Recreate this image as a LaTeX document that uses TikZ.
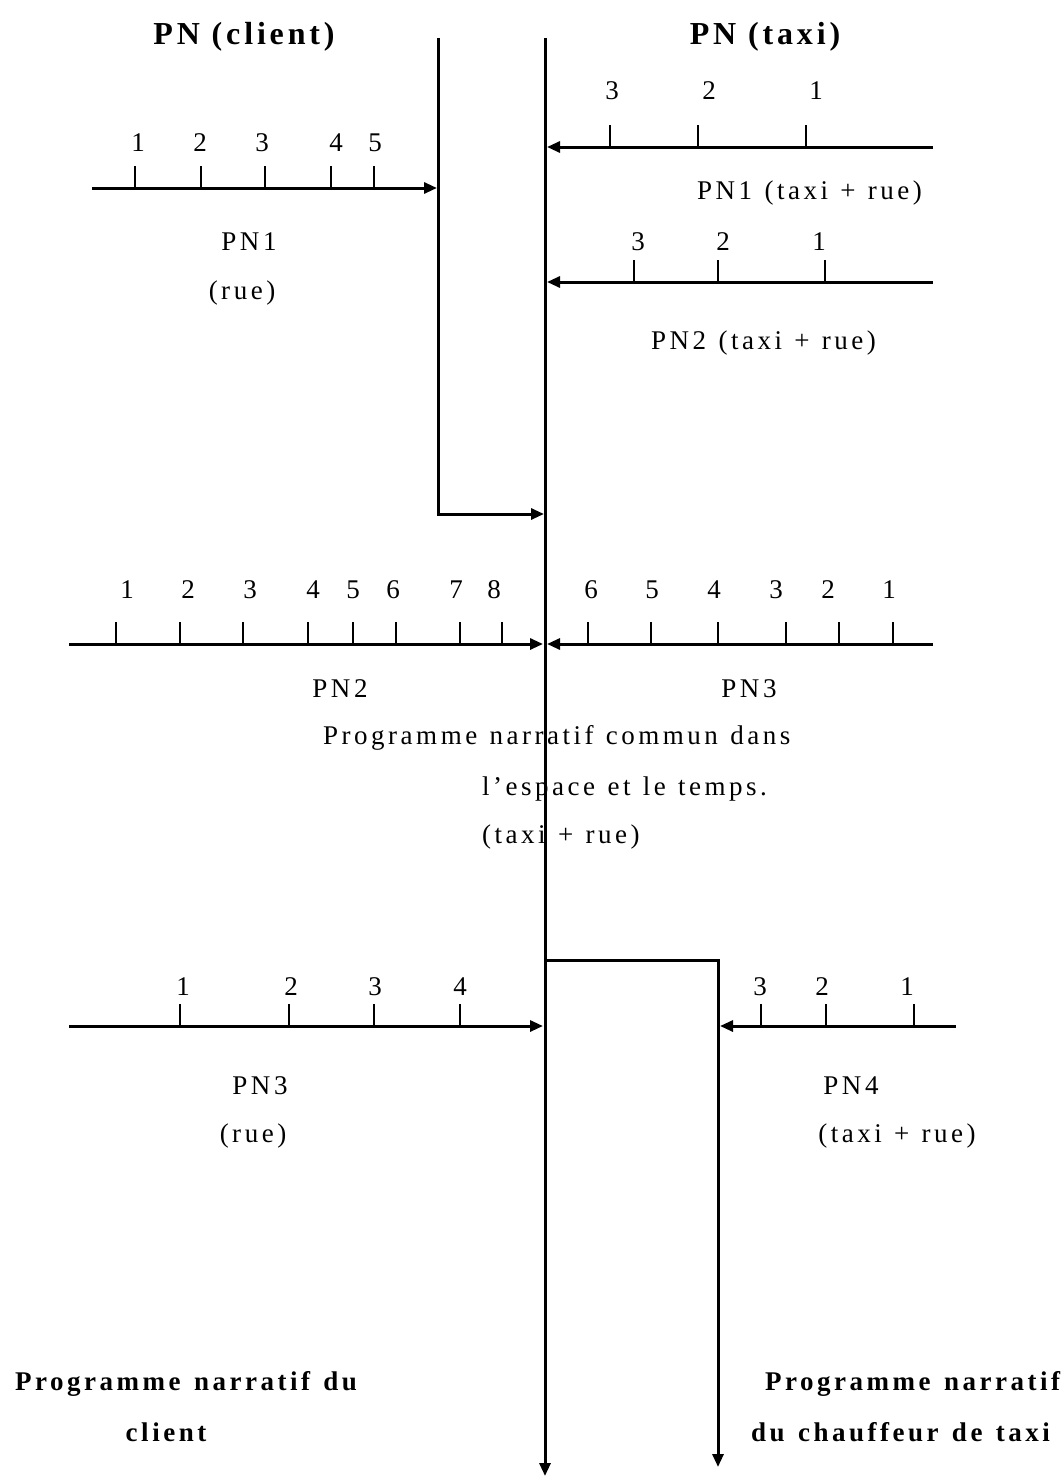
\documentclass[tikz,border=0pt]{standalone}
\usepackage{fontspec}
\setmainfont{Liberation Serif}[LetterSpace=13,WordSpace=1.2]
\newfontfamily\titlefont{Liberation Serif}[LetterSpace=12]
\newfontfamily\capfont{Liberation Serif}[LetterSpace=13,WordSpace=1.3]
\usetikzlibrary{arrows.meta}
\begin{document}
\begin{tikzpicture}[x=1pt,y=-1pt,
  ln/.style={line width=3pt},
  arr/.style={ln,-{Triangle[length=13pt,width=11pt]}},
  tickmark/.style={line width=2.6pt},
  lbl/.style={font=\fontsize{27}{32}\selectfont,inner sep=0pt,anchor=base},
  lblw/.style={lbl,anchor=base west},
  ttl/.style={font=\titlefont\fontsize{32}{38}\selectfont\bfseries,inner sep=0pt,anchor=base},
  bot/.style={font=\capfont\fontsize{27}{32}\selectfont\bfseries,inner sep=0pt,anchor=base west},
  botc/.style={bot,anchor=base}]
\useasboundingbox (0,0) rectangle (1063,1477);
\fill[white] (0,0) rectangle (1063,1477);

% titles
\node[ttl] (tclient) at (244,45) {PN (client)};
\node[ttl] (ttaxi) at (765,45) {PN (taxi)};

% main structure
\coordinate (mtop) at (545,38);
\coordinate (mbot) at (545,1476);
\coordinate (ltop) at (438,38);
\coordinate (ljoin) at (544,514);
\coordinate (rstart) at (545,960);
\coordinate (rbot) at (718,1467);
\draw[arr] (mtop) -- (mbot);
\draw[arr] (ltop) |- (ljoin);
\draw[arr] (rstart) -| (rbot);

% top right PN1 axis
\coordinate (a1s) at (933,147);
\coordinate (a1e) at (547,147);
\draw[arr] (a1s) -- (a1e);
\foreach \x in {610,698,806}{
  \draw[tickmark] (\x,147) -- (\x,125);
}
\foreach \x/\d in {612/3,709/2,816/1}{
  \node[lbl] (t1\d) at (\x,100) {\d};
}
\node[lblw] (pn1t) at (697,199) {PN1 (taxi + rue)};

% left PN1 axis
\coordinate (l1s) at (92,188);
\coordinate (l1e) at (437,188);
\draw[arr] (l1s) -- (l1e);
\foreach \x in {135,201,265,331,374}{
  \draw[tickmark] (\x,188) -- (\x,166);
}
\foreach \x/\d in {138/1,200/2,262/3,336/4,375/5}{
  \node[lbl] (c1\d) at (\x,151) {\d};
}
\node[lbl] (pn1c) at (249,250) {PN1};
\node[lbl] (pn1r) at (242,299) {(rue)};

% top right PN2 axis
\coordinate (a2s) at (933,282);
\coordinate (a2e) at (547,282);
\draw[arr] (a2s) -- (a2e);
\foreach \x in {634,718,825}{
  \draw[tickmark] (\x,282) -- (\x,260);
}
\foreach \x/\d in {638/3,723/2,819/1}{
  \node[lbl] (t2\d) at (\x,250) {\d};
}
\node[lblw] (pn2t) at (651,349) {PN2 (taxi + rue)};

% middle axes
\coordinate (mls) at (69,644);
\coordinate (mle) at (543,644);
\coordinate (mrs) at (933,644);
\coordinate (mre) at (547,644);
\draw[arr] (mls) -- (mle);
\draw[arr] (mrs) -- (mre);
\foreach \x in {116,180,243,308,353,396,460,502}{
  \draw[tickmark] (\x,644) -- (\x,622);
}
\foreach \x/\d in {127/1,188/2,250/3,313/4,353/5,393/6,456/7,494/8}{
  \node[lbl] (c2\d) at (\x,598) {\d};
}
\foreach \x in {588,651,718,786,839,893}{
  \draw[tickmark] (\x,644) -- (\x,622);
}
\foreach \x/\d in {591/6,652/5,714/4,776/3,828/2,889/1}{
  \node[lbl] (t3\d) at (\x,598) {\d};
}
\node[lbl] (pn2c) at (340,697) {PN2};
\node[lbl] (pn3t) at (749,697) {PN3};
\node[lblw] (com1) at (323,744) {Programme narratif commun dans};
\node[lblw] (com2) at (482,795) {l’espace et le temps.};
\node[lblw] (com3) at (482,843) {(taxi + rue)};

% bottom axes
\coordinate (bls) at (69,1026);
\coordinate (ble) at (543,1026);
\coordinate (brs) at (956,1026);
\coordinate (bre) at (720,1026);
\draw[arr] (bls) -- (ble);
\draw[arr] (brs) -- (bre);
\foreach \x in {180,289,374,460}{
  \draw[tickmark] (\x,1026) -- (\x,1004);
}
\foreach \x/\d in {183/1,291/2,375/3,460/4}{
  \node[lbl] (c3\d) at (\x,995) {\d};
}
\foreach \x in {761,826,914}{
  \draw[tickmark] (\x,1026) -- (\x,1004);
}
\foreach \x/\d in {760/3,822/2,907/1}{
  \node[lbl] (t4\d) at (\x,995) {\d};
}
\node[lbl] (pn3c) at (260,1094) {PN3};
\node[lbl] (pn3r) at (253,1142) {(rue)};
\node[lbl] (pn4t) at (851,1094) {PN4};
\node[lbl] (pn4r) at (897,1142) {(taxi + rue)};

% bottom captions
\node[bot] (capc1) at (15,1390) {Programme narratif du};
\node[botc] (capc2) at (166,1441) {client};
\node[bot] (capt1) at (765,1390) {Programme narratif};
\node[bot] (capt2) at (751,1441) {du chauffeur de taxi};
\end{tikzpicture}
\end{document}
